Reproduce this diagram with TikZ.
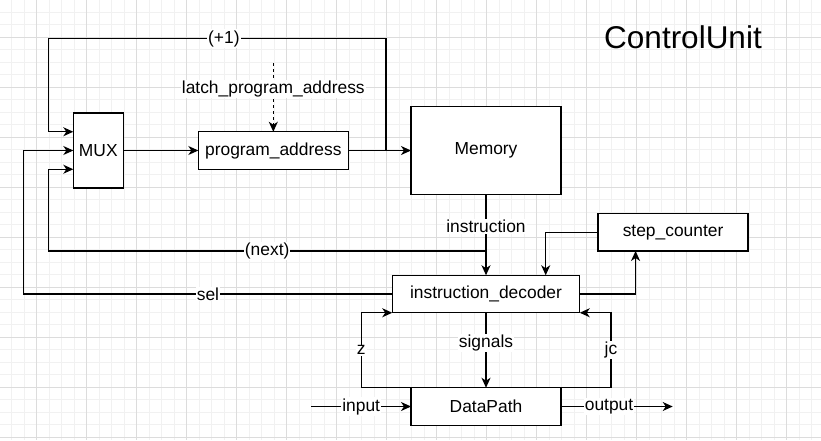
\documentclass[tikz,border=0pt]{standalone}
\usepackage{fontspec}
\setmainfont{Liberation Sans}
\usetikzlibrary{positioning,arrows.meta,calc}
\definecolor{gridminor}{HTML}{F1F1F1}
\definecolor{gridmajor}{HTML}{DCDCDC}
\tikzset{
  box/.style={draw,line width=1.3pt,fill=white,inner sep=0pt,outer sep=0pt,minimum height=37.5pt,font=\fontsize{17.4}{20}\selectfont},
  arr/.style={line width=1.3pt,-{Stealth[length=10pt,width=9pt,inset=3pt]}},
  lbl/.style={fill=white,inner sep=1pt,font=\fontsize{17.4}{20}\selectfont},
}
\begin{document}
\begin{tikzpicture}[x=1pt,y=-1pt]
\useasboundingbox (0,0) rectangle (821,440);
\fill[white] (0,0) rectangle (821,440);
\foreach \i in {0,...,66} \draw[gridminor,line width=1pt] (\i*12.5-1,0) -- (\i*12.5-1,440);
\foreach \i in {0,...,36} \draw[gridminor,line width=1pt] (0,\i*12.5-0.5) -- (821,\i*12.5-0.5);
\foreach \i in {0,...,17} \draw[gridmajor,line width=1pt] (\i*50-13.5,0) -- (\i*50-13.5,440);
\foreach \i in {0,...,9} \draw[gridmajor,line width=1pt] (0,\i*50-13) -- (821,\i*50-13);

\node[box,minimum width=50pt,minimum height=75pt] (mux) at (98.3,150.5) {MUX};
\node[box,minimum width=150pt,right=75pt of mux] (pa) {program\_address};
\node[box,minimum width=150pt,minimum height=87.5pt,right=62.7pt of pa] (mem) {Memory};
\node[box,minimum width=187.5pt,below=81pt of mem] (dec) {instruction\_decoder};
\node[box,minimum width=150pt,above right=24.3pt and 18.3pt of dec] (sc) {step\_counter};
\node[box,minimum width=150pt,below=75pt of dec] (dp) {DataPath};
\node[font=\fontsize{31.5}{36}\selectfont] (title) at (683,37) {ControlUnit};

\coordinate (tap) at ($(pa.east)!0.6!(mem.west)$);
\coordinate (nx) at ($(mem.south)!0.7!(dec.north)$);
\coordinate (latch) at ([yshift=68.7pt]pa.north);
\coordinate (in) at ([xshift=-99.7pt]dp.west);
\coordinate (out) at ([xshift=111.7pt]dp.east);

\draw[arr] (mux) -- (pa);
\draw[arr] (pa) -- (mem);
\draw[arr] (tap) -- ++(0,-112) -| node[lbl,pos=0.24]{(+1)} ([xshift=-25pt,yshift=18.75pt]mux.west) -- ([yshift=18.75pt]mux.west);
\draw[arr,dash pattern=on 3pt off 3pt] (latch) -- node[lbl,pos=0.38]{latch\_program\_address} (pa);
\draw[arr] (mem) -- node[lbl,pos=0.4]{instruction} (dec);
\draw[arr] (nx) -| node[lbl,pos=0.25]{(next)} ([xshift=-25pt,yshift=-18.75pt]mux.west) -- ([yshift=-18.75pt]mux.west);
\draw[arr] (dec.west) -| node[lbl,pos=0.25]{sel} ([xshift=-49.6pt]mux.west) -- (mux.west);
\draw[arr] (sc.west) -| ([xshift=59.7pt]dec.north);
\draw[arr] (dec.east) -| ([xshift=-37.5pt]sc.south);
\draw[arr] (dec) -- node[lbl,pos=0.4]{signals} (dp);
\draw[arr] (dp.north west) -- ++(-49.7,0) |- node[lbl,pos=0.25]{z} (dec.south west);
\draw[arr] (dp.north east) -- ++(50,0) |- node[lbl,pos=0.25]{jc} (dec.south east);
\draw[arr] (in) -- node[lbl]{input} (dp);
\draw[arr] (dp) -- node[lbl,pos=0.43]{output} (out);
\end{tikzpicture}
\end{document}
